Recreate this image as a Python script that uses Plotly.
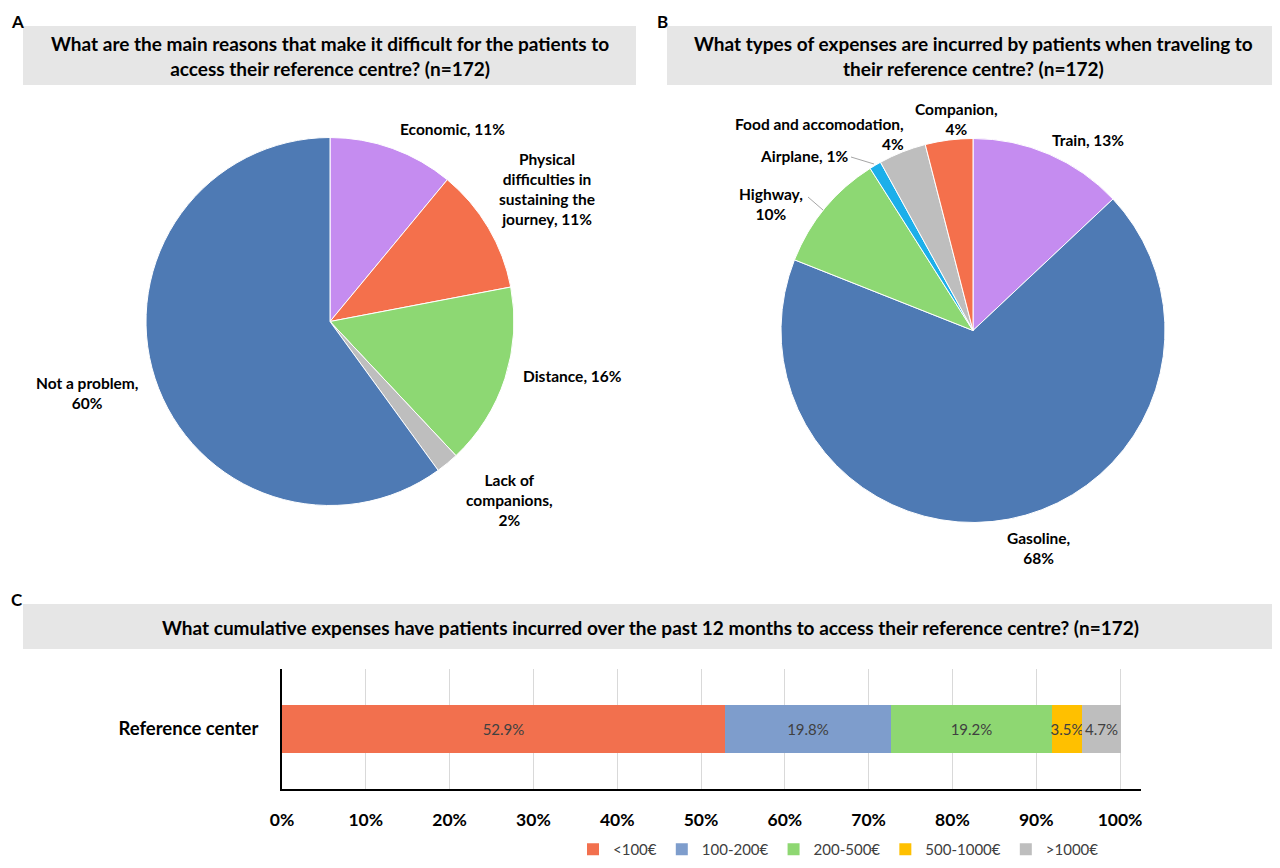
import plotly.graph_objects as go

W, H = 1280, 868
OFF = 8  # the page puts the figure 8px in from the top-left corner

# panel A
reasons = ['Economic', 'Physical difficulties in sustaining the journey', 'Distance',
           'Lack of companions', 'Not a problem']
reasons_pct = [11, 11, 16, 2, 60]
reasons_colors = ['#C58CF0', '#F4704C', '#8DD873', '#BEBEBE', '#4E7AB4']

# panel B
expenses = ['Train', 'Gasoline', 'Highway', 'Airplane', 'Food and accomodation', 'Companion']
expenses_pct = [13, 68, 10, 1, 4, 4]
expenses_colors = ['#C58CF0', '#4E7AB4', '#8DD873', '#1CAFEA', '#BEBEBE', '#F4704C']

# panel C
cost_bins = ['<100€', '100-200€', '200-500€', '500-1000€', '>1000€']
cost_pct = [52.9, 19.8, 19.2, 3.5, 4.7]
cost_colors = ['#F2704E', '#7E9DCC', '#8ED772', '#FFC000', '#BEBEBE']
bar_category = ['Reference center']

FONT = 'Lato'


def px(x):
    return (x - OFF) / W


def py(y):
    return 1 - (y - OFF) / H


def dom(cx, cy, r):
    return dict(x=[px(cx - r), px(cx + r)], y=[py(cy + r), py(cy - r)])


fig = go.Figure()

fig.add_trace(go.Pie(labels=reasons, values=reasons_pct, sort=False, direction='clockwise',
                     marker=dict(colors=reasons_colors, line=dict(color='white', width=1)),
                     textinfo='none', hoverinfo='label+percent', showlegend=False,
                     domain=dom(330, 321.5, 184)))
fig.add_trace(go.Pie(labels=expenses, values=expenses_pct, sort=False, direction='clockwise',
                     marker=dict(colors=expenses_colors, line=dict(color='white', width=1)),
                     textinfo='none', hoverinfo='label+percent', showlegend=False,
                     domain=dom(973, 330.5, 192)))

for name, v, c in zip(cost_bins, cost_pct, cost_colors):
    fig.add_trace(go.Bar(y=bar_category, x=[v], name=name, orientation='h',
                         marker=dict(color=c, line=dict(width=0)), width=0.4,
                         text=[f'{v}%'], textposition='inside', insidetextanchor='middle',
                         textangle=0, constraintext='none', cliponaxis=False,
                         textfont=dict(family=FONT, size=15, color='#404040')))

# pie labels: text (line breaks), pixel position, alignment
lab_a = {
    'Economic': ('Economic, {}%', 452, 129, 'center'),
    'Physical difficulties in sustaining the journey':
        ('Physical<br>difficulties in<br>sustaining the<br>journey, {}%', 547, 189, 'center'),
    'Distance': ('Distance, {}%', 572, 376, 'center'),
    'Lack of companions': ('Lack of<br>companions,<br>{}%', 509, 500, 'center'),
    'Not a problem': ('Not a problem,<br>{}%', 87, 393, 'center'),
}
lab_b = {
    'Train': ('Train, {}%', 1088, 140, 'center'),
    'Gasoline': ('Gasoline,<br>{}%', 1038, 548, 'center'),
    'Highway': ('Highway,<br>{}%', 771, 204, 'center'),
    'Airplane': ('Airplane, {}%', 804, 156, 'center'),
    'Food and accomodation': ('Food and accomodation,<br>{}%', 906, 134, 'right'),
    'Companion': ('Companion,<br>{}%', 956, 119, 'center'),
}

annotations = []
for labels, vals, lab in [(reasons, reasons_pct, lab_a), (expenses, expenses_pct, lab_b)]:
    for name, v in zip(labels, vals):
        t, x, y, al = lab[name]
        xa = 'right' if al == 'right' else 'center'
        annotations.append(dict(text='<b>' + t.format(v).replace('<br>', '</b><br><b>') + '</b>',
                                x=px(x), y=py(y), xref='paper', yref='paper',
                                xanchor=xa, yanchor='middle', align=al, showarrow=False,
                                font=dict(family=FONT, size=15.5, color='black')))

titles = [
    ('What are the main reasons that make it difficult for the patients to<br>'
     'access their reference centre? (n=172)', 330, 56),
    ('What types of expenses are incurred by patients when traveling to<br>'
     'their reference centre? (n=172)', 973, 56),
    ('What cumulative expenses have patients incurred over the past 12 months to access '
     'their reference centre? (n=172)', 650, 627),
]
for t, x, y in titles:
    annotations.append(dict(text='<b>' + t.replace('<br>', '</b><br><b>') + '</b>', x=px(x), y=py(y),
                            xref='paper', yref='paper', xanchor='center', yanchor='middle',
                            showarrow=False, font=dict(family=FONT, size=19, color='black')))

for t, x, y in [('A', 9, 9), ('B', 655, 9), ('C', 9, 587)]:
    annotations.append(dict(text=f'<b>{t}</b>', x=px(x), y=py(y), xref='paper', yref='paper',
                            xanchor='left', yanchor='top', showarrow=False,
                            font=dict(family=FONT, size=17, color='black')))

shapes = []
for x0, y0, x1, y1 in [(23, 26, 636, 85), (667, 26, 1290, 85), (23, 604, 1278, 649)]:
    shapes.append(dict(type='rect', xref='paper', yref='paper', x0=px(x0), x1=px(x1),
                       y0=py(y1), y1=py(y0), fillcolor='#E6E6E6', line=dict(width=0), layer='below'))

# leader lines for the small slices
for x0, y0, x1, y1 in [(851, 157, 874, 164), (808, 197, 823, 210)]:
    shapes.append(dict(type='line', xref='paper', yref='paper', x0=px(x0), y0=py(y0),
                       x1=px(x1), y1=py(y1), line=dict(color='#A6A6A6', width=1)))

fig.update_layout(
    width=W, height=H, margin=dict(l=0, r=0, t=0, b=0, autoexpand=False),
    paper_bgcolor='white', plot_bgcolor='white',
    barmode='stack', bargap=0,
    font=dict(family=FONT, color='black'),
    annotations=annotations, shapes=shapes,
    legend=dict(orientation='h', x=px(573), y=py(866), xanchor='left', yanchor='bottom',
                font=dict(family=FONT, size=15, color='#404040'), traceorder='normal',
                itemwidth=30, bgcolor='rgba(0,0,0,0)'),
)
fig.update_xaxes(domain=[px(282), px(1141)], range=[0, 102.5], tickvals=list(range(0, 101, 10)),
                 ticktext=[f'<b>{v}%</b>' for v in range(0, 101, 10)], showgrid=True,
                 gridcolor='#D9D9D9', gridwidth=1, zeroline=False, showline=True, linecolor='black',
                 linewidth=2, ticks='', ticklabelstandoff=14, automargin=False,
                 tickfont=dict(family=FONT, size=17.5, color='black'), fixedrange=True)
fig.update_yaxes(domain=[py(789), py(669)], range=[-0.5, 0.5], showline=True, linecolor='black',
                 linewidth=2, showgrid=False, ticks='', ticklabelstandoff=18, automargin=False,
                 tickvals=bar_category, ticktext=[f'<b>{c}</b>' for c in bar_category],
                 tickfont=dict(family=FONT, size=18.5, color='black'), fixedrange=True)

fig.write_html('out.html')
